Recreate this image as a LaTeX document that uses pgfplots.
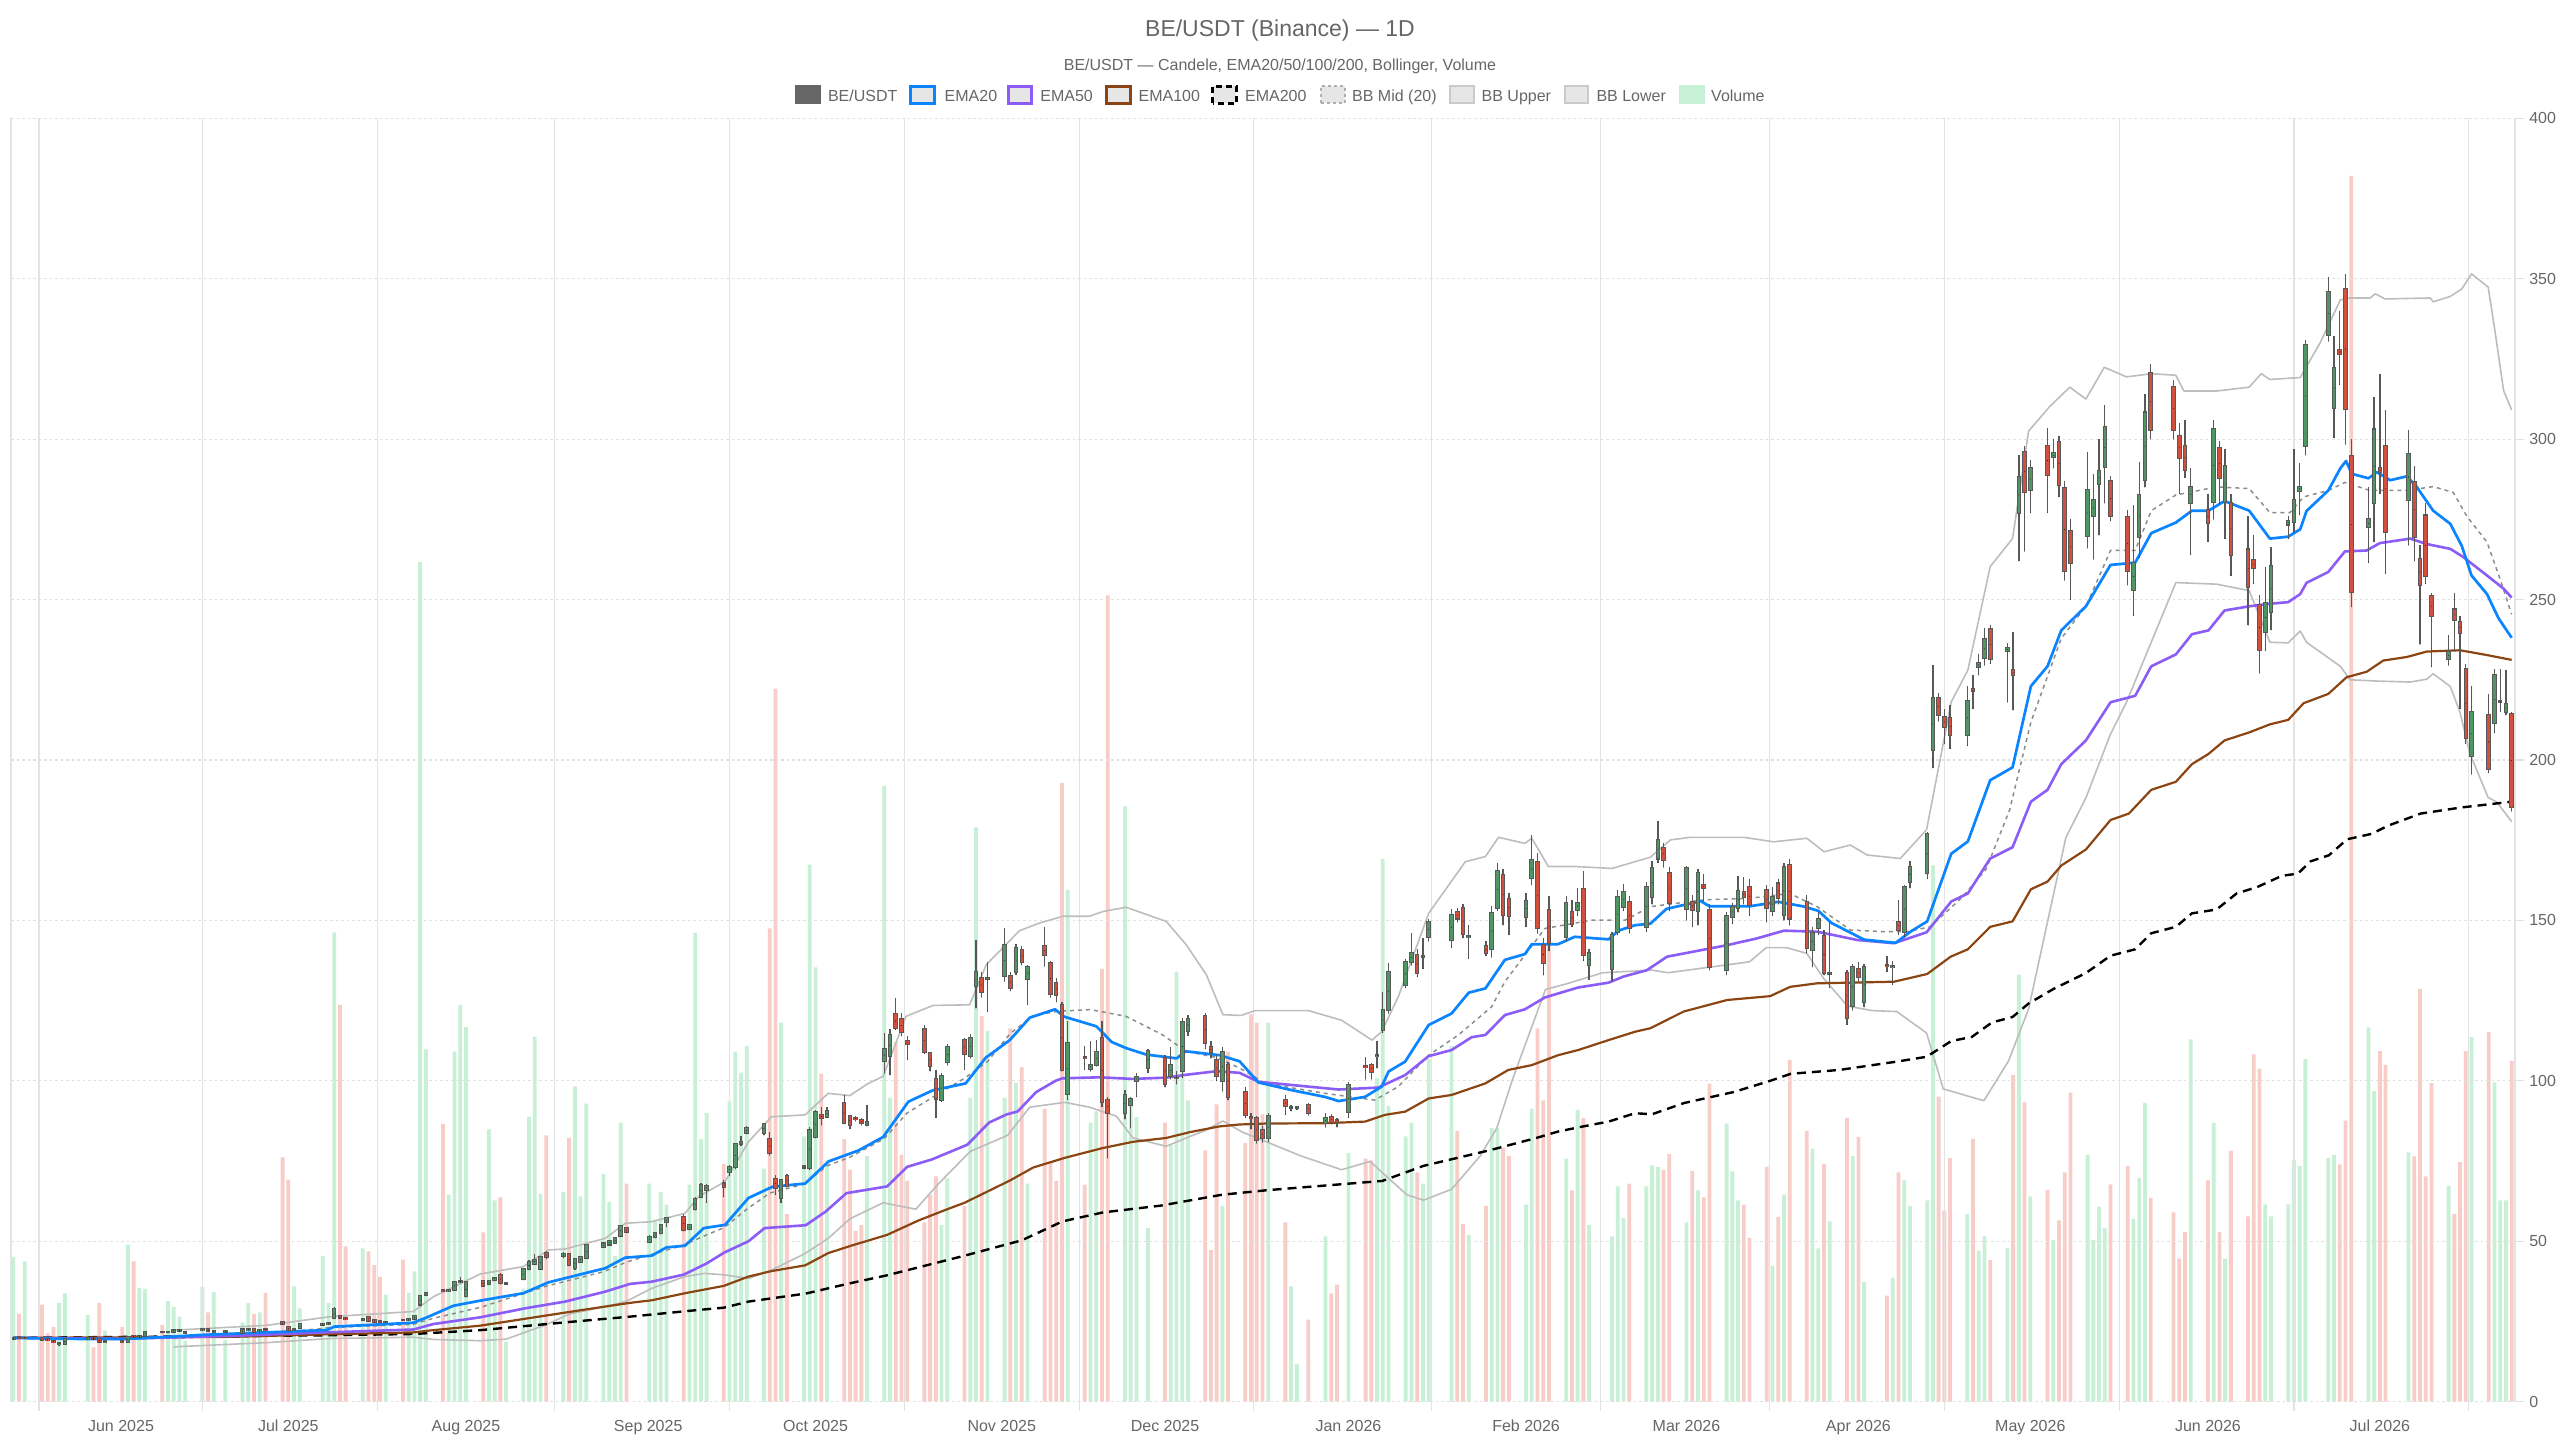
\documentclass[border=0pt]{standalone}
\usepackage{fontspec}
\setmainfont{Liberation Sans}
\usepackage{pgfplots}
\usepackage{pgfplotstable}
\pgfplotsset{compat=1.18}
\definecolor{upc}{HTML}{509664}
\definecolor{dnc}{HTML}{D2503C}
\definecolor{wickc}{HTML}{585858}
\definecolor{volup}{HTML}{C8F0D7}
\definecolor{voldn}{HTML}{F8CDC8}
\definecolor{emaA}{HTML}{0A84FF}
\definecolor{emaB}{HTML}{8B5CF6}
\definecolor{emaC}{HTML}{8B4513}
\definecolor{bbc}{HTML}{BDBDBD}
\definecolor{bbm}{HTML}{8C8C8C}
\definecolor{gridv}{HTML}{E3E3E3}
\definecolor{gridh}{HTML}{E0E0E0}
\definecolor{txt}{HTML}{666666}
\definecolor{boxf}{HTML}{E6E6E6}

\pgfplotstableread{
d o h l c v
-18 19.6 20.3 19.4 20.0 144.8
-17 20.1 20.4 19.6 19.8 87.7
-16 19.8 20.3 19.6 20.0 140.4
-13 19.8 20.0 19.1 19.3 97.1
-12 19.5 19.8 19.0 19.2 68.3
-11 19.0 19.2 18.3 18.5 74.9
-10 17.9 18.6 17.4 18.3 98.8
-9 18.1 19.6 18.0 19.5 108.2
-5 19.5 19.9 19.3 19.7 86.6
-4 19.8 20.0 19.4 19.6 54.4
-3 19.6 19.8 18.5 18.7 98.8
-2 18.6 18.9 18.4 18.8 71.1
1 18.9 19.1 18.3 18.5 74.9
2 18.6 20.4 18.5 20.2 157.1
3 20.4 20.9 20.2 20.3 140.4
4 20.3 20.8 20.1 20.5 113.8
5 20.6 22.0 20.5 21.8 112.7
8 21.8 22.0 21.4 21.6 76.6
9 21.6 22.0 21.4 21.8 100.5
10 21.8 22.6 21.7 22.4 94.9
11 22.1 22.5 21.9 22.3 85.0
12 21.5 22.0 21.4 21.8 61.1
15 22.2 23.0 22.0 22.7 114.9
16 22.5 22.7 21.8 21.9 89.4
17 21.7 22.0 21.5 21.9 109.9
19 21.8 22.2 21.6 22.0 61.6
22 21.5 22.7 21.4 22.5 79.4
23 22.4 22.8 22.0 22.6 98.8
24 22.8 23.0 21.6 21.8 87.7
25 21.9 22.4 21.7 22.2 89.4
26 22.5 22.7 22.1 22.3 108.8
29 24.7 25.2 24.0 24.3 244.2
30 23.4 23.6 22.0 22.2 222.0
31 22.3 22.9 22.1 22.6 115.4
32 22.9 24.4 22.8 24.2 93.3
36 24.0 24.5 23.9 24.3 145.9
37 24.2 24.6 24.0 24.4 98.8
38 26.0 29.6 25.8 28.8 469.4
39 26.6 26.9 25.8 26.0 396.7
40 26.0 26.3 25.5 25.7 155.4
43 25.6 26.0 25.5 25.9 153.2
44 26.4 26.6 25.2 25.3 150.4
45 25.4 25.6 24.8 25.0 136.5
46 25.0 25.2 24.6 24.8 124.9
47 24.7 25.1 24.6 24.9 107.1
50 25.6 25.8 25.2 25.4 142.0
51 25.4 25.9 25.3 25.7 108.8
52 25.9 27.0 25.7 26.7 130.4
53 30.3 33.3 29.8 33.0 839.5
54 33.2 34.3 33.0 34.0 352.3
57 34.8 35.0 34.2 34.4 277.5
58 34.4 35.0 34.3 34.7 207.0
59 34.8 37.6 34.6 37.4 350.1
60 37.3 38.9 37.0 37.6 396.7
61 32.8 37.6 32.5 37.3 374.5
64 37.6 38.0 36.0 36.2 169.3
65 36.6 37.8 36.4 37.5 272.4
66 37.9 38.9 37.6 38.7 201.4
67 39.5 40.0 36.6 36.9 204.2
68 36.8 37.4 36.6 37.0 60.0
71 38.2 41.6 37.9 41.3 113.0
72 41.3 44.2 41.0 43.6 284.7
73 43.0 46.0 42.8 44.3 365.1
74 41.5 45.5 41.2 45.2 208.1
75 46.2 47.0 44.5 45.2 266.4
78 45.3 46.6 44.8 46.1 209.8
79 45.9 46.2 42.3 42.6 264.1
80 41.8 44.8 41.2 44.5 315.2
81 43.6 45.4 43.3 45.1 205.3
82 44.7 49.2 44.5 48.8 298.0
85 48.3 49.6 48.0 49.3 227.5
86 49.0 50.3 48.8 50.1 199.8
87 49.4 51.1 49.2 50.9 145.9
88 51.7 55.2 51.5 54.8 279.1
89 54.0 54.3 52.8 53.0 218.1
93 49.9 51.8 49.5 51.4 218.1
94 51.4 53.0 51.0 52.5 182.0
95 52.5 55.3 52.2 55.0 209.7
96 56.1 57.6 54.5 57.1 197.0
99 57.7 58.5 53.2 53.5 185.9
100 53.8 55.4 53.5 55.0 217.0
101 60.0 63.8 59.6 63.2 468.9
102 63.9 68.3 63.5 67.5 262.5
103 66.0 67.8 62.0 67.3 288.5
106 68.0 69.0 63.9 67.0 237.5
107 71.7 73.8 70.4 73.2 300.2
108 73.2 80.6 72.5 80.2 350.1
109 80.2 82.8 79.8 81.0 329.1
110 83.9 85.8 83.5 85.2 355.7
113 83.9 86.7 83.0 86.4 233.1
114 82.0 84.0 76.8 77.4 473.3
115 69.5 70.5 64.5 66.5 713.0
116 63.4 69.5 62.0 69.1 379.0
117 70.4 71.0 66.8 67.2 187.6
120 72.8 73.8 72.5 73.3 265.2
121 72.7 85.5 72.3 84.7 537.1
122 82.6 90.8 82.2 90.4 434.4
123 89.3 92.0 86.2 88.5 328.0
124 88.8 91.8 88.5 90.6 241.4
127 93.0 95.5 86.5 86.9 262.5
128 88.9 89.5 85.0 86.3 232.0
129 88.4 89.0 87.4 88.0 170.9
130 87.9 88.5 86.2 86.9 176.5
131 86.1 92.5 85.8 87.2 245.8
134 106.1 115.0 102.4 110.0 615.9
135 107.6 116.3 101.8 114.4 304.1
136 120.8 125.8 116.0 116.5 359.6
137 119.4 121.0 114.0 115.2 246.9
138 112.5 114.0 106.5 111.5 220.8
141 116.3 117.5 108.5 109.0 179.3
142 108.7 109.0 103.0 104.5 207.0
143 100.7 103.5 88.5 94.5 225.3
144 94.1 102.5 93.5 101.4 176.5
145 105.9 111.5 104.8 110.5 223.6
148 112.8 113.5 103.5 108.4 195.9
149 107.9 114.5 107.0 113.4 304.1
150 129.5 144.0 122.6 133.9 574.3
151 132.0 134.0 126.0 127.7 385.6
152 131.8 137.0 121.5 132.2 370.7
155 132.6 147.6 131.0 142.4 304.1
156 132.6 134.0 128.0 129.0 373.4
157 133.9 142.5 133.0 141.4 319.1
158 140.9 142.0 136.0 137.0 334.6
159 131.8 136.0 123.7 135.4 218.1
162 141.9 147.8 135.7 139.3 293.0
163 136.7 137.5 126.0 127.1 240.3
164 130.5 132.0 124.5 126.9 220.8
165 123.5 124.5 103.0 103.5 618.7
166 95.9 118.6 94.1 111.8 512.1
169 107.5 111.0 103.5 107.0 217.0
170 103.8 112.5 103.0 105.0 279.1
171 105.0 112.8 104.5 109.0 290.2
172 113.2 118.6 92.0 93.4 432.8
173 94.1 95.0 75.9 90.0 806.2
176 90.0 97.0 88.0 95.7 595.4
177 92.6 95.0 85.3 94.3 304.1
178 100.1 102.5 95.0 101.1 284.7
180 104.0 110.0 102.5 109.4 173.7
183 107.1 108.0 98.0 99.0 279.1
184 101.4 110.5 100.5 105.0 256.9
185 100.8 103.0 99.0 101.0 430.0
186 103.0 119.6 101.0 118.4 373.4
187 115.4 120.5 114.0 119.4 301.3
190 120.1 121.0 110.0 111.8 251.4
191 110.5 112.5 107.0 109.0 151.5
192 106.6 108.0 100.0 101.4 297.4
193 100.1 110.5 96.7 109.0 195.9
194 105.0 106.0 94.0 94.9 350.1
197 96.6 98.0 88.5 89.4 258.6
198 88.8 90.0 85.0 88.3 387.3
199 88.3 89.0 80.5 81.6 379.0
200 84.7 86.0 80.8 82.1 287.4
201 82.1 90.0 81.0 89.0 379.0
204 94.0 95.5 89.5 92.2 179.3
205 91.5 92.5 90.5 91.9 115.4
206 91.6 92.3 91.0 91.8 37.8
208 92.5 93.0 89.2 90.0 82.1
211 86.8 90.0 85.5 88.3 165.4
212 88.8 89.8 86.5 87.3 108.2
213 87.8 88.5 85.5 87.4 117.1
215 90.4 99.5 88.5 98.7 248.6
218 104.6 107.5 100.5 104.3 243.0
219 104.9 105.5 100.5 102.9 241.4
220 107.6 112.3 103.9 108.2 323.5
221 115.8 127.8 115.0 122.0 542.7
222 122.0 136.6 121.0 134.0 295.8
225 129.9 138.0 129.0 137.1 265.2
226 137.1 146.0 136.0 139.7 279.1
227 139.2 141.0 132.5 133.5 229.2
228 138.7 144.5 135.0 139.0 218.1
229 144.7 150.5 143.5 149.6 342.9
233 143.9 153.5 141.5 151.7 355.7
234 152.7 154.0 149.5 150.6 270.8
235 153.8 155.0 144.5 145.8 177.6
236 144.7 148.5 138.0 145.1 166.5
239 142.0 143.5 139.0 139.7 195.9
240 141.0 154.5 138.5 152.4 273.6
241 154.0 167.8 153.0 165.5 273.6
242 164.2 166.0 148.5 151.7 254.1
243 156.6 158.5 145.5 151.4 245.8
246 151.2 158.5 148.0 156.2 197.0
247 163.1 176.5 161.0 168.8 293.0
248 168.3 171.0 146.0 147.5 373.4
249 142.3 144.5 133.0 136.6 301.3
250 153.2 157.5 140.5 142.9 459.4
253 144.9 157.5 143.5 155.3 243.0
254 152.7 156.5 148.0 148.9 211.4
255 153.4 160.0 151.5 155.5 291.9
256 159.7 165.5 137.5 139.2 283.5
257 136.1 141.0 131.5 139.7 176.5
261 135.0 146.5 131.0 145.4 165.4
262 146.5 159.5 145.5 157.4 215.3
263 154.3 161.5 153.0 159.0 183.7
264 155.8 157.5 146.0 147.5 218.1
267 148.0 162.0 146.5 160.5 215.3
268 157.4 168.5 155.0 166.2 236.4
269 169.3 181.0 168.0 175.1 234.7
270 172.7 174.0 166.5 168.8 231.9
271 164.7 166.5 153.0 155.5 247.5
274 153.5 167.0 150.0 166.2 179.3
275 155.8 158.0 148.0 153.2 230.8
276 153.0 166.0 148.5 164.9 211.4
277 161.0 164.5 156.0 160.0 204.2
278 153.2 155.0 134.5 135.4 318.0
281 134.5 152.5 133.0 151.5 278.0
282 151.0 155.5 149.0 154.3 230.3
283 153.8 164.0 152.5 159.3 201.4
284 159.0 163.5 155.0 157.2 197.0
285 160.3 163.0 151.5 154.8 163.7
288 159.5 161.0 149.5 153.8 234.7
289 153.0 160.5 151.5 157.2 136.0
290 161.5 163.0 155.0 156.9 184.8
291 151.7 168.0 150.0 166.7 207.0
292 167.3 169.0 148.5 150.6 341.8
295 155.8 158.0 140.0 141.3 270.8
296 140.8 148.0 135.5 146.2 253.0
297 147.5 152.5 145.5 150.3 153.2
298 145.1 147.0 133.0 133.5 237.5
299 133.4 149.5 129.0 133.6 180.4
302 133.5 134.5 117.5 119.5 283.5
303 123.3 136.5 122.0 135.6 245.8
304 135.0 137.0 131.0 132.3 264.7
305 124.7 136.5 123.0 135.6 119.9
309 136.0 139.0 134.0 135.8 106.0
310 135.4 137.5 130.0 135.8 124.1
311 149.6 156.5 145.5 147.0 229.3
312 146.5 161.0 145.0 160.5 221.3
313 162.1 168.5 160.0 166.7 195.8
316 164.7 177.5 163.0 176.8 201.4
317 203.1 229.5 197.5 219.2 536.2
318 219.2 221.0 212.0 214.0 305.0
319 213.5 216.0 205.0 210.2 191.0
320 213.0 217.0 203.5 207.8 243.6
323 207.8 223.0 204.5 218.5 187.8
324 222.0 226.5 216.0 221.4 262.7
325 229.1 233.0 226.5 230.1 151.1
326 231.7 241.0 229.5 237.6 165.5
327 240.7 242.0 230.0 231.4 141.6
330 234.0 236.5 218.0 234.8 153.5
331 228.0 240.0 215.5 226.5 326.5
332 276.9 295.0 262.0 288.3 427.0
333 296.1 298.0 265.0 283.6 299.4
334 284.2 293.5 277.0 290.9 205.4
337 297.9 303.5 277.0 288.8 211.7
338 294.3 300.0 291.0 295.6 161.5
339 299.2 301.0 282.0 285.7 181.4
340 284.7 287.0 256.0 259.0 229.3
341 271.5 275.0 250.0 261.3 309.0
344 269.8 296.0 266.0 284.2 246.8
345 276.0 289.0 262.5 281.0 161.5
346 286.0 300.0 270.0 290.2 195.0
347 291.2 310.5 280.0 303.7 173.5
348 287.0 288.5 274.5 276.0 217.3
351 275.8 278.0 254.5 259.0 235.6
352 253.0 279.5 245.0 261.5 183.0
353 269.4 293.0 263.0 282.6 223.7
354 287.3 314.0 285.0 308.3 298.6
355 320.5 323.5 300.0 302.8 203.8
359 316.4 318.5 300.0 302.8 189.4
360 301.0 305.0 283.0 294.0 143.1
361 297.9 306.0 288.0 290.4 169.5
362 280.2 291.0 264.0 285.2 362.4
365 277.9 283.0 268.0 273.8 221.3
366 280.5 306.0 275.0 303.1 278.7
367 297.1 299.5 280.0 287.8 169.5
368 280.5 297.0 269.0 291.6 143.1
369 280.2 283.0 257.5 263.9 250.8
372 265.6 276.0 242.0 253.8 185.4
373 262.3 270.0 255.0 259.7 347.3
374 248.3 251.5 227.0 234.3 332.9
375 240.0 260.0 234.0 249.0 197.4
376 246.2 266.5 240.5 260.5 185.4
379 273.4 276.0 269.0 274.5 197.4
380 274.2 297.0 271.0 281.1 241.2
381 283.8 292.5 276.5 285.2 235.6
382 297.8 331.0 295.0 329.2 342.5
386 332.4 350.5 330.5 346.0 243.6
387 309.6 332.0 300.5 322.3 246.8
388 327.8 340.0 317.0 326.5 237.2
389 346.8 351.5 298.4 309.4 281.1
390 294.6 300.0 247.7 252.3 1225.8
393 272.5 285.0 261.5 275.0 374.3
394 280.0 313.0 268.0 303.0 310.6
395 290.9 320.3 283.0 289.8 350.5
396 298.0 309.0 258.0 271.1 336.9
400 281.1 303.0 267.0 295.3 249.2
401 286.5 291.5 262.0 269.6 245.2
402 262.7 267.0 236.0 254.6 412.6
403 276.2 280.0 255.0 257.5 225.3
404 251.1 252.0 229.0 244.8 318.5
407 231.5 239.0 229.5 233.8 215.7
408 246.9 252.0 234.0 243.6 187.8
409 243.1 245.0 216.0 239.6 239.6
410 228.4 230.0 205.0 207.0 350.5
411 201.2 223.0 195.5 215.1 364.8
414 213.9 220.5 196.0 197.3 369.6
415 211.4 228.5 208.5 226.4 319.3
416 218.0 228.5 215.0 218.5 201.4
417 215.1 228.0 214.0 217.4 201.4
418 214.2 215.0 184.0 185.4 340.9
}\bedata

\pgfplotsset{candle/.style={only marks, mark=*, mark size=0.01pt,
  mark options={draw=none, fill=none}, forget plot}}

\begin{document}
\begin{tikzpicture}
\useasboundingbox (0,0) rectangle (2560pt,1440pt);

% ---------- volume (hidden axis) ----------
\begin{axis}[
  at={(11pt,38.3pt)}, anchor=south west,
  scale only axis, width=2504pt, height=1283.4pt,
  xmin=-18.4, xmax=418.6, ymin=0, ymax=1283.4,
  hide axis,
]
\addplot[ybar, bar width=3.8pt, bar shift=0pt, fill=volup, draw=none,
  restrict expr to domain={\thisrow{c}-\thisrow{o}}{0:10000}]
  table[x=d, y=v] {\bedata};
\addplot[ybar, bar width=3.8pt, bar shift=0pt, fill=voldn, draw=none,
  restrict expr to domain={\thisrow{o}-\thisrow{c}}{0.0001:10000}]
  table[x=d, y=v] {\bedata};
\end{axis}

% ---------- price axis ----------
\begin{axis}[
  at={(11pt,38.3pt)}, anchor=south west,
  scale only axis, width=2504pt, height=1283.4pt,
  xmin=-18.4, xmax=418.6, ymin=0, ymax=400,
  axis line style={draw=none},
  xtick={-13.5,15,45.5,76.5,107,137.5,168,198.5,229.5,259,288.5,319,349.5,380,410.5},
  xticklabels={},
  extra x ticks={0.8,30,61,92.8,122,154.5,183,215,246,274,304,334,365,395},
  extra x tick labels={Jun 2025,Jul 2025,Aug 2025,Sep 2025,Oct 2025,Nov 2025,Dec 2025,Jan 2026,Feb 2026,Mar 2026,Apr 2026,May 2026,Jun 2026,Jul 2026},
  extra x tick style={grid=none, major tick length=0pt},
  ytick={0,50,...,400},
  xmajorgrids, ymajorgrids,
  x grid style={color=gridv, line width=1.2pt},
  y grid style={color=gridh, line width=1.2pt, dash pattern=on 2.5pt off 3pt},
  tick align=outside, major tick length=9pt,
  xtick pos=left, ytick pos=right,
  xtick style={color=gridv, line width=1.2pt},
  ytick style={color=gridh, line width=1.2pt},
  yticklabel pos=right,
  /pgf/number format/assume math mode=true,
  tick label style={font=\fontsize{16}{19}\selectfont, text=txt, inner sep=0pt},
  yticklabel style={anchor=west, xshift=5pt},
  xticklabel style={anchor=north, yshift=-18pt},
  clip=true,
]
% Bollinger bands
\addplot[bbc, line width=1.6pt, line join=round, forget plot] coordinates {
(10,22.3) (26.2,23.8) (37.3,26.5) (51.8,28.1) (55.3,32.7) (63.5,39.8) (71,42.1) (75.4,47.3) (78.3,47.6) (85.3,50.9) (88.8,55.6) (93.4,56.1) (99.2,58.7) (101.6,63.9) (106.2,68.6) (110.3,81) (114.3,88.8) (120.2,89.4) (124.2,96.1) (128,95.4) (131,99) (133.8,101.4) (137.8,120.1) (142.5,123.5) (148.9,123.7) (151.8,136.2) (157.6,146.8) (161.1,149.2) (165.2,151.3) (169.8,151.3) (172.2,152.8) (176.2,154.1) (183.2,149.7) (186.7,142.4) (190.2,133.1) (193.1,120.6) (196.3,120.4) (198.7,121.9) (208,121.9) (213.8,118.9) (219.1,112.7) (220.8,115.3) (223.7,126.2) (229,152.2) (235.4,168.3) (238.9,169.9) (241.2,175.9) (245.8,174) (247,175.6) (249.9,166.8) (254.5,166.8) (261,166.2) (265,168.3) (267.7,169.7) (271.2,175.1) (274.7,175.9) (284,175.9) (289.2,174.5) (295,175.6) (298,171.4) (302.6,173.5) (305.5,170.4) (311.3,169.3) (315.9,178.3) (320.2,218.1) (323.1,228) (327,260.3) (330.9,269) (333.7,302.5) (337.3,310) (340.9,316.2) (343.7,312.5) (346.9,322.4) (350.8,319.4) (355.1,320.4) (359.4,319.9) (360.8,315) (366.5,315) (372.2,316.2) (374.3,320.4) (375.8,318.6) (381.1,319.2) (384.6,330.1) (388.1,343.4) (389.8,344) (393.3,344) (394.2,345.3) (395.9,343.7) (403.8,344) (404.3,342.8) (407.3,344.5) (409.3,346.8) (411,351.5) (413.9,347.4) (415.1,333.6) (416.6,315.1) (418,309.1)};
\addplot[bbc, line width=1.6pt, line join=round, forget plot] coordinates {
(10,17.1) (26.2,18.4) (37.3,19.7) (51.8,20.1) (55.3,19.4) (63.5,19.0) (68,19.5) (75,24) (79,27.3) (86,29.9) (89,31.3) (93.4,35.3) (99.2,39) (102.7,40) (106.2,39.5) (110.3,38.4) (114.3,41) (120.2,46.2) (124.2,50.9) (128,57) (133.8,62) (139.5,60) (143.5,68) (149,78) (155.5,83) (159.4,91.8) (165.5,93.3) (169.8,91.8) (174.5,89) (177.4,82.2) (183.2,79.6) (186.7,82.2) (190,84.5) (193.1,87.5) (196.5,84) (199.6,81.8) (206.7,76.6) (213.8,72.3) (218.8,74.9) (220.9,71.4) (225.2,64.5) (228.1,62.8) (233,66.2) (238,76.6) (240.9,85.3) (243.7,100.8) (249.4,128.5) (253,130.2) (259.4,133.7) (268,134.5) (270.8,133.7) (277.9,135.4) (285,137.1) (287.9,141.5) (291.5,141.5) (295,139.7) (297.9,132) (302.1,123.3) (306.4,121.9) (310.7,121.6) (315.9,114.9) (318.8,97.5) (325.9,93.8) (330.2,106.2) (333.7,122.4) (340.2,175.8) (343.7,188.2) (348,208.1) (350.8,218.1) (355.1,236.7) (359.4,255.3) (366.5,254.8) (372.2,252.8) (375.8,236.7) (379,236.5) (381.1,240.2) (382.2,236.7) (388.1,229.2) (389.8,225) (394.5,224.6) (400.3,224.3) (403.2,225.2) (404.3,226.9) (407.3,222.9) (409,214.8) (410.7,202.1) (413.9,188.3) (415.4,186.9) (418,180.8)};
\addplot[bbm, line width=1.5pt, dash pattern=on 4pt off 4pt, forget plot] coordinates {
(10,19.7) (26.2,21.1) (37.3,23.1) (51.8,24.1) (55.3,26) (63.5,29.4) (75,36) (85,40.5) (89,43.5) (93,45.7) (99,48.8) (103,52) (106,54.2) (110,60) (114,65) (120,67.8) (124,73.5) (128,76.2) (134,82) (138,90) (143,95.5) (148,100.8) (152,106) (156,114.8) (160,120.3) (164.3,121.7) (170,122.2) (176.2,120.1) (182.5,114.4) (186.7,109.2) (192,107.3) (196,104) (200.5,99.2) (210.9,96.1) (219.6,94) (223.7,98.2) (229,108) (234.2,114.3) (240,123.1) (242.3,130.9) (245.8,139.2) (249.3,147.5) (257.5,150.1) (263.3,150.1) (267.7,154.3) (277,156.4) (285,156.9) (292,158.4) (296.8,154.3) (302.6,147) (308.4,146.5) (312.5,146.5) (316.5,148) (322,157) (326.3,166) (330.4,184.5) (334.1,211.8) (339.4,237.9) (343.7,247.9) (348,265.3) (352.3,265.3) (355.1,277.7) (359.4,282.6) (366.5,285.1) (372.2,284.6) (375.8,277.1) (379.3,277.1) (381.7,282) (386,284) (388.9,286.5) (393.3,284) (399.7,284) (404.3,285.2) (407.8,283.4) (410.2,275.9) (413.7,267.9) (416,256.3) (418,245.4)};
% EMA200
\addplot[black, line width=2.4pt, dash pattern=on 9pt off 6pt, forget plot] coordinates {
(-18,19.9) (36.7,20.7) (51.8,21.1) (63.5,22.3) (80,25) (89.6,26.5) (101.6,28.6) (106,29.3) (110.3,31.2) (120.3,33.7) (128,36.9) (134.5,39.4) (148,45.5) (158,50.3) (165.1,56.2) (172.2,59) (182.2,61.1) (192.9,64.5) (200.7,65.9) (220.9,68.8) (228.1,73.5) (239.5,78.3) (247.6,82.1) (251.6,84.2) (255.7,85.7) (260.4,87.3) (265,89.9) (268,89.6) (273.6,93.1) (282.2,96.5) (288.6,100) (292.2,102.2) (300.7,103.4) (310.7,106) (315.9,107.5) (320.2,112.4) (323.8,113.7) (327.3,118.2) (330.9,119.9) (333.7,124.1) (338,128.6) (343.7,133.6) (348,139) (352.3,141) (355.1,146) (359.4,148) (362.2,152.2) (366.5,153.4) (370,158.4) (373.6,160.4) (377.9,163.9) (380.7,164.6) (382.9,168.4) (386.1,170.3) (389.3,175.3) (393.6,177) (396.4,179.5) (402.1,183.3) (409.2,185.2) (418,187)};
% EMA100
\addplot[emaC, line width=2.2pt, line join=round, forget plot] coordinates {
(-18,19.9) (20,20.2) (36.7,21.0) (51.8,21.6) (55.3,22.3) (63.5,23.7) (80.6,28.4) (89.6,30.8) (93.4,31.6) (99.2,33.8) (106,36.1) (110.3,39) (114.3,40.7) (120.2,42.5) (124.2,46.3) (128,48.5) (134.5,52) (140,56.5) (145,60) (148,62) (152,65.5) (156,69) (160,73) (165.5,76) (172,79) (177.4,81) (183.2,82.2) (187.3,84) (192.5,85.8) (196,86.4) (200.7,86.7) (210.9,86.8) (217.9,87.3) (221.4,89.4) (224.9,90.4) (229,94.5) (233,95.6) (238.9,99.2) (242.9,103.4) (247,104.9) (251.6,108) (255.1,109.6) (260.4,112.7) (265,115.3) (267.7,116.4) (273.5,121.6) (281.1,125.2) (288.6,126.4) (292.1,129.3) (296.8,130.4) (302.6,130.6) (310.2,130.9) (316,133.3) (320.1,138.7) (323.1,141) (327,148) (330.9,149.7) (334.1,159.7) (337,162.1) (339.4,167.1) (343.7,172.1) (348,181.3) (351.2,183.3) (355.1,190.7) (359.4,193.2) (362.2,198.7) (365.1,201.9) (367.9,206.1) (372.2,208.6) (375.8,211.1) (379,212.5) (381.7,217.7) (386,220.6) (389.2,225.8) (392.7,227.5) (395.6,231) (399.7,232.1) (403.2,233.8) (409,234.2) (413.7,232.7) (418,231.2)};
% EMA50
\addplot[emaB, line width=2.6pt, line join=round, forget plot] coordinates {
(-18,19.9) (1,19.6) (20,20.5) (36.7,21.6) (51.8,22.5) (55.3,24.2) (63.5,26.3) (71.3,29.1) (78.3,31.2) (85.3,34.3) (89.6,36.7) (93.4,37.4) (99,39.6) (103,43.1) (106.1,46.5) (110.3,50) (113.1,54.1) (120.3,55) (123.8,59.3) (127.4,65) (134.5,67.1) (138,73.2) (142.3,75.5) (148.5,80.1) (152.3,87) (155.3,89.5) (157.3,90.5) (160.5,96.5) (164,100.1) (165.1,100.8) (171.6,101.1) (177.4,100.6) (183.2,101) (186.7,101.9) (192,103) (196,102.5) (199.3,99.7) (205.1,98.7) (213.3,97.3) (220.2,97.9) (224.9,101.8) (229,107.7) (233,109.6) (236.5,113.6) (238.9,114.3) (242.3,120.5) (245.8,122.3) (249.3,126) (255.1,129.1) (260.4,130.6) (263,132.5) (267.1,134.5) (270.6,138.7) (275.3,140.3) (281.1,142.3) (286.3,144.4) (291,146.8) (296.8,146.5) (303.8,143.9) (310.2,142.9) (315.9,146.3) (320.2,155.9) (323.1,158.4) (327,169.3) (330.9,172.8) (334.1,187) (337,190.7) (339.4,198.7) (343.7,206.1) (348,218) (352.3,220) (355.1,229.2) (359.4,232.9) (362.2,239.2) (365.1,240.4) (367.9,246.6) (372.2,247.9) (375.8,248.7) (379,249.2) (381.1,251.7) (382.2,255.2) (386,258.6) (388.9,265) (392.7,265.3) (395,267.6) (400.3,269) (403.2,267.3) (407.3,265.8) (409.6,263.2) (413.7,257.5) (416.6,253.4) (418,250.6)};
% EMA20
\addplot[emaA, line width=2.7pt, line join=round, forget plot] coordinates {
(-18,19.9) (-10,19.6) (1,19.5) (10,20.3) (14.6,20.8) (26.2,21.6) (36.7,22.3) (38,23.4) (45,24.0) (51.8,24.6) (54.2,26.3) (58.8,29.9) (63.5,31.5) (71,33.8) (75.4,37.2) (85.3,41.6) (88.8,44.9) (93.4,45.5) (96,48.1) (99.2,48.6) (102.5,54.1) (106.2,55.1) (110.3,63.5) (114.5,67) (120.2,68) (124.3,74.9) (129.5,78.3) (133.8,82.5) (138.2,93.5) (142.4,97) (148.2,99.2) (151.7,107.2) (155.9,112.7) (159.4,119.7) (163.8,122.3) (165.4,120) (171,117) (173.7,112.1) (176.2,110.2) (179.7,108.2) (185,107) (186.6,109.2) (192.5,108) (196,106.1) (199.3,99.5) (205.1,97.1) (210.9,95) (213.3,93.7) (217.9,95) (220.8,98.2) (222,102.9) (224.9,106) (229,117.4) (233,121) (236,127.5) (238.9,128.8) (242.3,137.7) (245.8,139.5) (247,142.6) (251.6,142.6) (254.5,144.9) (260.4,144.1) (262.1,146.8) (265,148.5) (267.7,149) (270.5,153.6) (276.5,156) (278,154.4) (285,154.4) (290,155.8) (294.3,154.4) (297,153) (299.3,149.2) (305,144) (310.5,143) (313.1,146.5) (316,149.7) (320.2,170.8) (323.1,174.6) (327,193.7) (330.9,197.7) (334.1,223) (337,229.2) (339.4,240.4) (343.7,247.9) (348,260.8) (352.3,261.5) (355.1,270.7) (359.4,274) (362.2,277.7) (365.1,277.7) (367.9,280.7) (372.2,277.7) (375.8,269) (379,269.6) (381.1,271.9) (382.2,277.6) (386,284) (388.1,290.9) (389.1,293.2) (390.1,289.2) (393,287.8) (394.5,289.7) (396.8,287.2) (399.7,288.4) (401.4,285.2) (404.3,277.7) (407.3,273.6) (409.3,266.7) (411,257.5) (413.7,251.7) (415.7,244.2) (418,238.1)};

% candles: wicks
\addplot[candle,
  error bars/.cd, y dir=plus, y explicit, error mark=none,
  error bar style={line width=1.3pt, color=wickc}]
  table[x=d, y=l, y error expr=\thisrow{h}-\thisrow{l}] {\bedata};
% body outline
\addplot[candle,
  error bars/.cd, y dir=both, y explicit, error mark=none,
  error bar style={line width=4.6pt, color=wickc}]
  table[x=d, y expr={(\thisrow{o}+\thisrow{c})/2}, y error expr={abs(\thisrow{c}-\thisrow{o})/2+0.32}] {\bedata};
% body fill up
\addplot[candle,
  restrict expr to domain={\thisrow{c}-\thisrow{o}}{0:10000},
  error bars/.cd, y dir=both, y explicit, error mark=none,
  error bar style={line width=2.6pt, color=upc}]
  table[x=d, y expr={(\thisrow{o}+\thisrow{c})/2}, y error expr={abs(\thisrow{c}-\thisrow{o})/2}] {\bedata};
% body fill down
\addplot[candle,
  restrict expr to domain={\thisrow{o}-\thisrow{c}}{0.0001:10000},
  error bars/.cd, y dir=both, y explicit, error mark=none,
  error bar style={line width=2.6pt, color=dnc}]
  table[x=d, y expr={(\thisrow{o}+\thisrow{c})/2}, y error expr={abs(\thisrow{c}-\thisrow{o})/2}] {\bedata};
\end{axis}

% axis borders
\draw[gridv, line width=1.2pt] (11pt,38.3pt) -- (11pt,1321.7pt);
\draw[gridv, line width=1.2pt] (2515pt,38.3pt) -- (2515pt,1321.7pt);

% title and subtitle
\node[anchor=base, text=txt, font=\fontsize{23}{27}\selectfont, inner sep=0pt] at (1280pt,1403.9pt) {BE/USDT (Binance) — 1D};
\node[anchor=base, text=txt, font=\fontsize{16}{19}\selectfont, inner sep=0pt] at (1280pt,1369.8pt) {BE/USDT — Candele, EMA20/50/100/200, Bollinger, Volume};

% legend
\begin{scope}[font=\fontsize{16}{19}\selectfont]
\fill[fill=txt] (795.3pt,1335.5pt) rectangle ++(25.5pt,19pt);
\filldraw[fill=boxf, draw=emaA, line width=3pt] (910.5pt,1336.5pt) rectangle ++(23.5pt,17pt);
\filldraw[fill=boxf, draw=emaB, line width=3pt] (1008pt,1336.5pt) rectangle ++(23.5pt,17pt);
\filldraw[fill=boxf, draw=emaC, line width=3pt] (1106.9pt,1336.5pt) rectangle ++(23.5pt,17pt);
\filldraw[fill=boxf, draw=black, line width=3pt, dash pattern=on 6pt off 4pt] (1212.8pt,1336.5pt) rectangle ++(23.5pt,17pt);
\filldraw[fill=boxf, draw=bbm!70, line width=2pt, dash pattern=on 3pt off 3pt] (1321.2pt,1336.5pt) rectangle ++(23.5pt,17pt);
\filldraw[fill=boxf, draw=bbc!80, line width=2pt] (1450pt,1336.5pt) rectangle ++(23.5pt,17pt);
\filldraw[fill=boxf, draw=bbc!80, line width=2pt] (1564.8pt,1336.5pt) rectangle ++(23.5pt,17pt);
\fill[fill=volup] (1679.2pt,1335.5pt) rectangle ++(25.5pt,19pt);
\node[anchor=base west, text=txt, inner sep=0pt] at (827.8pt,1338.8pt) {BE/USDT};
\node[anchor=base west, text=txt, inner sep=0pt] at (944.5pt,1338.8pt) {EMA20};
\node[anchor=base west, text=txt, inner sep=0pt] at (1040.2pt,1338.8pt) {EMA50};
\node[anchor=base west, text=txt, inner sep=0pt] at (1138.4pt,1338.8pt) {EMA100};
\node[anchor=base west, text=txt, inner sep=0pt] at (1244.9pt,1338.8pt) {EMA200};
\node[anchor=base west, text=txt, inner sep=0pt] at (1352pt,1338.8pt) {BB Mid (20)};
\node[anchor=base west, text=txt, inner sep=0pt] at (1481.5pt,1338.8pt) {BB Upper};
\node[anchor=base west, text=txt, inner sep=0pt] at (1596.3pt,1338.8pt) {BB Lower};
\node[anchor=base west, text=txt, inner sep=0pt] at (1711pt,1338.8pt) {Volume};
\end{scope}
\end{tikzpicture}
\end{document}
